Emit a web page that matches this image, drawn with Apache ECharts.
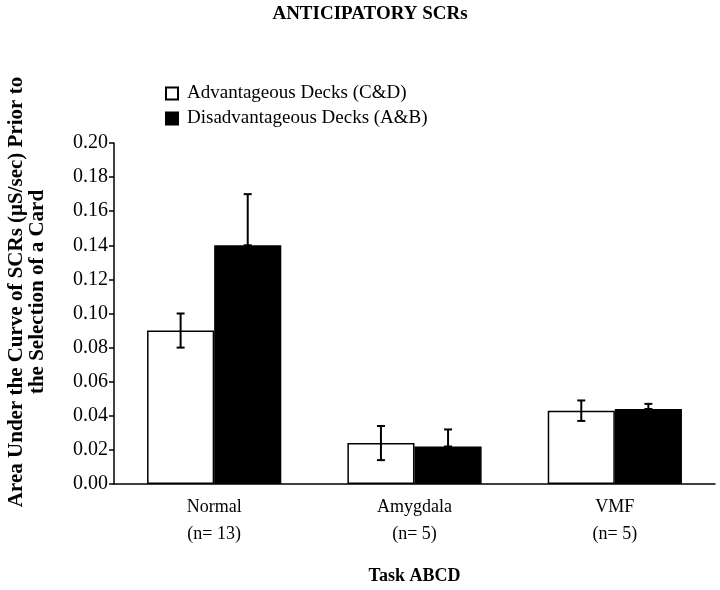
<!DOCTYPE html>
<html>
<head>
<meta charset="utf-8">
<script src="https://cdn.jsdelivr.net/npm/echarts@6/dist/echarts.min.js"></script>
<style>html,body{margin:0;padding:0;background:#fff}#c{width:720px;height:590px}</style>
</head>
<body>
<div id="c"></div>
<script>
var categories = ['Normal', 'Amygdala', 'VMF'];
var groupSizes = ['(n= 13)', '(n= 5)', '(n= 5)'];
var seriesNames = ['Advantageous Decks (C&D)', 'Disadvantageous Decks (A&B)'];
var advantageous = [0.090, 0.024, 0.043];
var disadvantageous = [0.140, 0.022, 0.044];
var advErrLow = [0.080, 0.014, 0.037];
var advErrHigh = [0.100, 0.034, 0.049];
var disErrLow = [0.140, 0.022, 0.044];
var disErrHigh = [0.170, 0.032, 0.047];
var yTicks = [0, 0.02, 0.04, 0.06, 0.08, 0.10, 0.12, 0.14, 0.16, 0.18, 0.20];

var FONT = '"Liberation Serif", "Times New Roman", serif';
var BARFRAC = 0.335;

function errData(lo, hi, side) {
  return categories.map(function (c, i) { return [i, lo[i], hi[i], side]; });
}

function renderErr(params, api) {
  var i = api.value(0);
  var lo = api.coord([i, api.value(1)]);
  var hi = api.coord([i, api.value(2)]);
  var band = api.size([1, 0])[0];
  var bw = band * BARFRAC;
  var x = lo[0] + api.value(3) * bw / 2;
  var cap = 4;
  var st = { stroke: '#000', lineWidth: 2 };
  return {
    type: 'group',
    children: [
      { type: 'line', shape: { x1: x, y1: lo[1], x2: x, y2: hi[1] }, style: st },
      { type: 'line', shape: { x1: x - cap, y1: hi[1], x2: x + cap, y2: hi[1] }, style: st },
      { type: 'line', shape: { x1: x - cap, y1: lo[1], x2: x + cap, y2: lo[1] }, style: st }
    ]
  };
}

var chart = echarts.init(document.getElementById('c'), null, { renderer: 'canvas' });
chart.setOption({
  backgroundColor: '#fff',
  animation: false,
  title: {
    text: 'ANTICIPATORY SCRs',
    left: 365, top: 0, textAlign: 'center',
    textStyle: { fontFamily: FONT, fontWeight: 'bold', fontSize: 19, color: '#000' }
  },
  legend: {
    data: seriesNames,
    orient: 'vertical',
    left: 160, top: 79,
    icon: 'rect',
    itemWidth: 12, itemHeight: 12, itemGap: 6,
    textStyle: { fontFamily: FONT, fontSize: 19, color: '#000', padding: [0, 0, 0, 4] }
  },
  grid: { left: 114, right: 5, top: 143, bottom: 103, containLabel: false },
  xAxis: {
    type: 'category',
    data: categories,
    name: 'Task ABCD',
    nameLocation: 'middle',
    nameGap: 83,
    nameTextStyle: { fontFamily: FONT, fontWeight: 'bold', fontSize: 18, color: '#000' },
    axisLine: { lineStyle: { color: '#000', width: 1.5 } },
    axisTick: { show: false },
    axisLabel: {
      margin: 10,
      fontFamily: FONT, fontSize: 18, color: '#000', lineHeight: 27,
      formatter: function (v, i) { return v + '\n' + groupSizes[i]; }
    }
  },
  yAxis: {
    type: 'value',
    min: 0, max: 0.2, interval: 0.02,
    axisLine: { show: true, lineStyle: { color: '#000', width: 1.5 } },
    axisTick: { show: true, length: 5, lineStyle: { color: '#000', width: 1.5 } },
    splitLine: { show: false },
    axisLabel: {
      margin: 6,
      fontFamily: FONT, fontSize: 20, color: '#000',
      formatter: function (v) { return v.toFixed(2); }
    }
  },
  graphic: [{
    type: 'text',
    x: 27, y: 292,
    rotation: Math.PI / 2,
    style: {
      text: 'Area Under the Curve of SCRs (\u03bcS/sec) Prior to\nthe Selection of a Card',
      font: 'bold 21px ' + FONT,
      fill: '#000',
      textAlign: 'center',
      textVerticalAlign: 'middle',
      lineHeight: 21
    }
  }],
  series: [
    {
      name: seriesNames[0], type: 'bar', data: advantageous,
      barWidth: (BARFRAC * 100) + '%', barGap: '0%',
      itemStyle: { color: '#fff', borderColor: '#000', borderWidth: 1.5 }
    },
    {
      name: seriesNames[1], type: 'bar', data: disadvantageous,
      barWidth: (BARFRAC * 100) + '%', barGap: '0%',
      itemStyle: { color: '#000', borderColor: '#000', borderWidth: 1.5 }
    },
    {
      type: 'custom', renderItem: renderErr, data: errData(advErrLow, advErrHigh, -1),
      encode: { x: 0, y: [1, 2] }, z: 5, silent: true
    },
    {
      type: 'custom', renderItem: renderErr, data: errData(disErrLow, disErrHigh, 1),
      encode: { x: 0, y: [1, 2] }, z: 5, silent: true
    }
  ]
});
</script>
</body>
</html>
